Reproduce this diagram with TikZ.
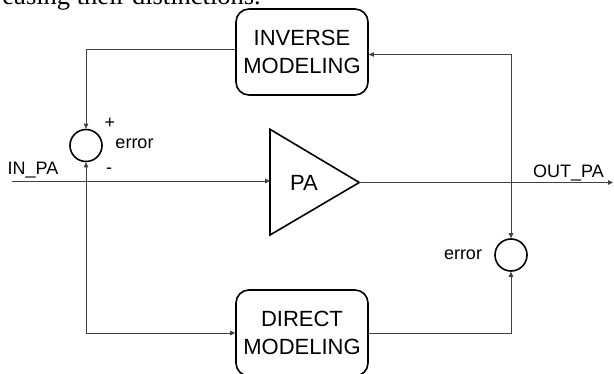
\documentclass[tikz,border=0pt]{standalone}
\usepackage{fontspec}
\setmainfont{Liberation Sans}
\newfontfamily\papertext{Liberation Serif}
\usetikzlibrary{arrows.meta}

\tikzset{
  block/.style={draw, line width=1.6pt, rounded corners=13pt,
    minimum width=132pt, minimum height=86pt, inner sep=0pt,
    align=center, font=\fontsize{22}{28}\selectfont},
  sumnode/.style={draw, circle, line width=1.6pt, minimum size=32pt, inner sep=0pt},
  wire/.style={line width=0.8pt, draw=black!75},
  feed/.style={wire, -{Triangle[length=5pt,width=4.5pt]}},
  lbl/.style={font=\fontsize{18}{20}\selectfont, inner sep=0pt},
}

\begin{document}
\begin{tikzpicture}[x=1pt,y=-1pt]
\clip (0,0) rectangle (614,374);

% tail of the preceding paragraph line
\node[anchor=base east, inner sep=0pt, font=\papertext\fontsize{26.5}{30}\selectfont]
  (paper) at (261,5) {increasing their distinctions.};

% model blocks
\node[block] (inv) at (302,52) {INVERSE\\MODELING};
\node[block] (dir) at (302,333) {DIRECT\\MODELING};

% error summing junctions
\node[sumnode] (sumL) at (86,145.5) {};
\node[sumnode] (sumR) at (511,255) {};

% power amplifier triangle
\coordinate (paA) at (270,129.3);
\coordinate (paB) at (270,235);
\coordinate (paTip) at (359.3,182.5);
\draw[line width=1.6pt, line join=miter] (paA) -- (paTip) -- (paB) -- cycle;
\node[font=\fontsize{22}{26}\selectfont] (pa) at (304,182.5) {PA};

% signal path points
\coordinate (inStart) at (12,181);
\coordinate (paIn) at (270,181);
\coordinate (outEnd) at (613,182.5);
\coordinate (tapL) at (86,181);
\coordinate (tapR) at (511,182.5);

% connectors
\draw[feed] (inStart) -- (paIn);
\draw[feed] (paTip) -- (outEnd);
\draw[feed] ([yshift=2.5pt]inv.west) -| (sumL.north);
\draw[feed] (tapR) |- ([yshift=-2.5pt]inv.east);
\draw[feed] (tapR) -- (sumR.north);
\draw[feed] (tapL) -- (sumL.south);
\draw[feed] (tapL) |- (dir.west);
\draw[feed] (dir.east) -| (sumR.south);

% labels
\node[lbl] (plus) at (110,123) {+};
\node[lbl] (errL) at (134.5,144) {error};
\node[lbl] (minus) at (109,171) {-};
\node[lbl, anchor=base] (inlbl) at (33,175) {IN\_PA};
\node[lbl, anchor=base] (outlbl) at (568.5,177.3) {OUT\_PA};
\node[lbl] (errR) at (463,255) {error};
\end{tikzpicture}
\end{document}
